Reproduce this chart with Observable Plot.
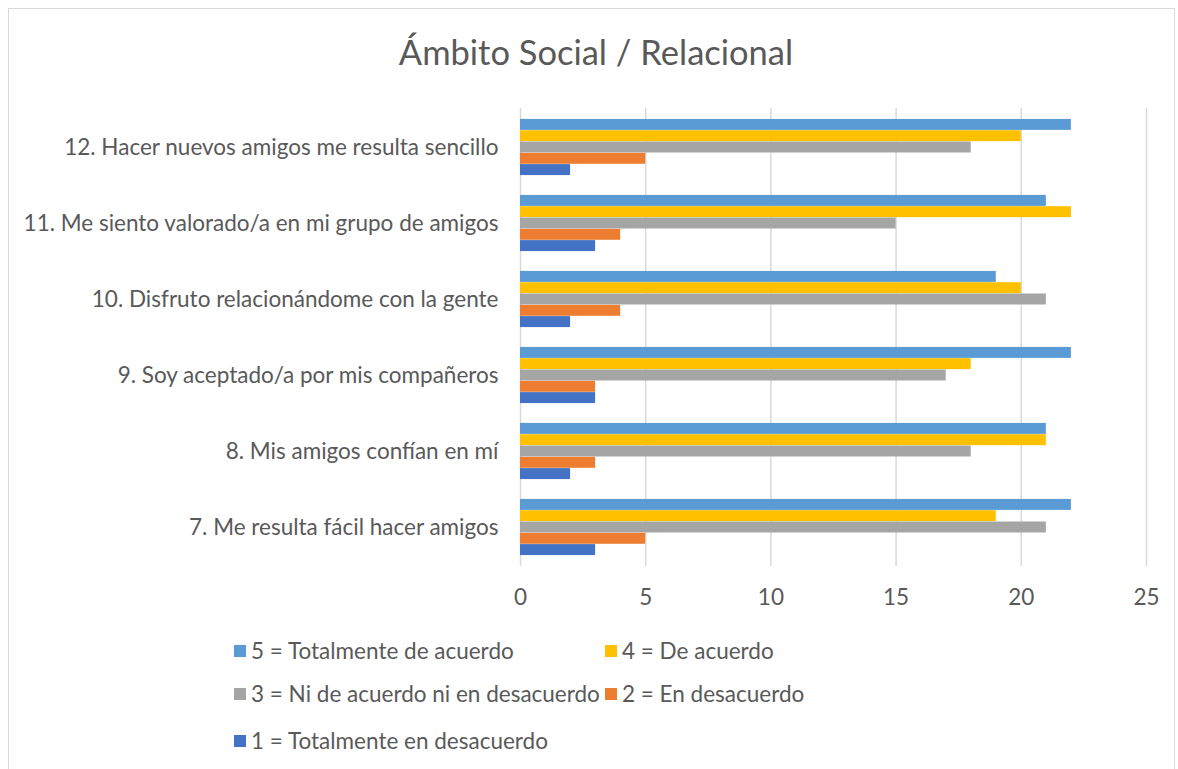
<!DOCTYPE html>
<html><head><meta charset="utf-8">
<script src="https://cdn.jsdelivr.net/npm/d3@7"></script>
<script src="https://cdn.jsdelivr.net/npm/@observablehq/plot@0.6"></script>
<style>
body{margin:0;background:#fff;}
#wrap{position:relative;width:1178px;height:769px;overflow:hidden;font-family:Lato,"Open Sans",sans-serif;color:#595959;}
#border{position:absolute;left:8px;top:8px;width:1167px;height:800px;border:1px solid #d9d9d9;box-sizing:border-box;}
#title{position:absolute;left:0;width:1192px;top:30px;text-align:center;font-size:34.5px;line-height:44px;}
#plot{position:absolute;left:0;top:0;}
.leg{position:absolute;font-size:22.5px;line-height:26px;white-space:nowrap;}
.leg span.sw{position:absolute;left:0;top:7px;width:12px;height:12px;}
.leg span.tx{position:absolute;left:17px;top:0;}
</style></head><body>
<div id="wrap">
<div id="border"></div>
<div id="title">Ámbito Social / Relacional</div>
<div id="plot"></div>
<div id="legend"></div>
</div>
<script>
const categories = [
  "12. Hacer nuevos amigos me resulta sencillo",
  "11. Me siento valorado/a en mi grupo de amigos",
  "10. Disfruto relacionándome con la gente",
  "9. Soy aceptado/a por mis compañeros",
  "8. Mis amigos confían en mí",
  "7. Me resulta fácil hacer amigos"
];
const seriesNames = [
  "5 = Totalmente de acuerdo",
  "4 = De acuerdo",
  "3 = Ni de acuerdo ni en desacuerdo",
  "2 = En desacuerdo",
  "1 = Totalmente en desacuerdo"
];
const seriesColors = ["#5B9BD5", "#FFC000", "#A5A5A5", "#ED7D31", "#4472C4"];
const s5 = [22, 21, 19, 22, 21, 22];
const s4 = [20, 22, 20, 18, 21, 19];
const s3 = [18, 15, 21, 17, 18, 21];
const s2 = [5, 4, 4, 3, 3, 5];
const s1 = [2, 3, 2, 3, 2, 3];
const xTicks = [0, 5, 10, 15, 20, 25];

const seriesValues = [s5, s4, s3, s2, s1];
const W = 1178, H = 620;
const mTop = 108, mBottom = 54, mLeft = 520, mRight = 32;
const step = (H - mTop - mBottom) / categories.length;
const off = step * 0.13;
const bh = step * 0.74 / seriesNames.length;

const marks = [
  Plot.gridX(xTicks, {stroke: "#d9d9d9", strokeOpacity: 1, strokeWidth: 1.5})
];
seriesValues.forEach((vals, k) => {
  const rows = categories.map((c, i) => ({category: c, value: vals[i]}));
  marks.push(Plot.barX(rows, {
    x: "value", y: "category", fill: seriesColors[k],
    insetTop: off + k * bh, insetBottom: step - off - (k + 1) * bh
  }));
});
marks.push(Plot.axisX({ticks: xTicks, tickSize: 0, tickPadding: 23, label: null, fontSize: 22.5}));
marks.push(Plot.axisY({tickSize: 0, tickPadding: 22, label: null, fontSize: 22.5}));

const chart = Plot.plot({
  width: W, height: H,
  marginTop: mTop, marginBottom: mBottom, marginLeft: mLeft, marginRight: mRight,
  style: {fontFamily: "Lato, 'Open Sans', sans-serif", fontSize: "22.5px", color: "#595959", background: "transparent", overflow: "visible"},
  x: {domain: [0, 25]},
  y: {domain: categories, padding: 0},
  marks
});
document.getElementById("plot").appendChild(chart);

const legendPos = [[234, 638], [605, 638], [234, 681], [605, 681], [234, 728]];
const leg = document.getElementById("legend");
seriesNames.forEach((n, k) => {
  const d = document.createElement("div");
  d.className = "leg";
  d.style.left = legendPos[k][0] + "px";
  d.style.top = legendPos[k][1] + "px";
  d.innerHTML = `<span class="sw" style="background:${seriesColors[k]}"></span><span class="tx">${n}</span>`;
  leg.appendChild(d);
});
</script>
</body></html>
